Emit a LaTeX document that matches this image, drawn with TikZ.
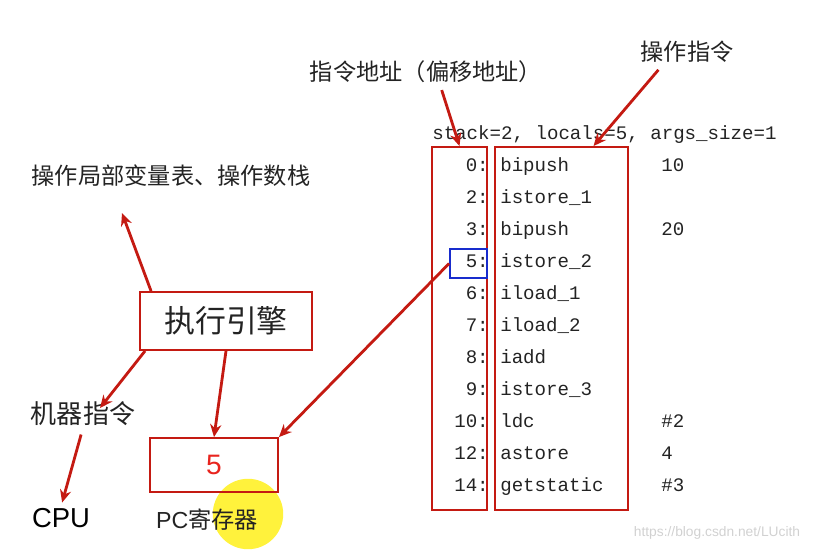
\documentclass[tikz,border=0pt]{standalone}
\usepackage{fontspec}
\setmainfont{Liberation Sans}
\setmonofont{Liberation Mono}
\newfontfamily\cjk{Noto Sans CJK SC}
\usepackage{xcolor}
\usepackage{tikz}
\usetikzlibrary{shapes, arrows.meta, positioning}
\definecolor{jvmred}{RGB}{196,26,18}
\definecolor{fivered}{RGB}{232,36,30}
\definecolor{pcblue}{RGB}{24,44,205}
\definecolor{inkgray}{RGB}{35,35,35}
\definecolor{cursorhl}{RGB}{255,242,60}

\begin{document}
\begin{tikzpicture}[
            x=0.025cm, y=-0.025cm,
            note/.style={inner sep=1pt, text=inkgray, font=\cjk\fontsize{16.5}{18}\selectfont},
            redbox/.style={rectangle, draw=jvmred, line width=1.3pt},
            codeline/.style={inner sep=0pt, text height=1.5ex, text depth=.25ex, text=inkgray, font=\ttfamily\fontsize{13.6}{15}\selectfont},
            arrow/.style={line width=2pt, jvmred, -{Stealth[length=9pt, width=8pt]}}
        ]
            \useasboundingbox (0,0) rectangle (821,551);

            % titles
            \node[note] (addrtitle) at (426,72) {指令地址（偏移地址）};
            \node[note] (optitle) at (687,52) {操作指令};
            \node[note] (locals) at (171,176) {操作局部变量表、操作数栈};

            % bytecode listing
            \node[codeline, anchor=west] (header) at (432,135) {stack=2, locals=5, args\_size=1};
            \foreach \addr/\op/\arg [count=\i from 0] in {0/bipush/10, 2/istore\_1/, 3/bipush/20, 5/istore\_2/, 6/iload\_1/, 7/iload\_2/, 8/iadd/, 9/istore\_3/, 10/ldc/\#2, 12/astore/4, 14/getstatic/\#3} {
                \node[codeline, anchor=east] (addr\i) at (489,167+32*\i) {\addr:};
                \node[codeline, anchor=west] (op\i) at (500,167+32*\i) {\op};
                \node[codeline, anchor=west] (arg\i) at (661,167+32*\i) {\arg};
            }
            \node[redbox, minimum width=1.375cm, minimum height=9.075cm] (addrbox) at (459.5,328.5) {};
            \node[redbox, minimum width=3.325cm, minimum height=9.075cm] (opbox) at (561.5,328.5) {};
            \node[rectangle, draw=pcblue, line width=1.3pt, minimum width=0.925cm, minimum height=0.725cm] (cur) at (468.5,263.5) {};

            % engine side
            \node[redbox, minimum width=4.3cm, minimum height=1.45cm, text=inkgray, font=\cjk\fontsize{22}{24}\selectfont] (engine) at (226,321) {执行引擎};
            \node[note, font=\cjk\fontsize{18.5}{20}\selectfont] (mach) at (83,414) {机器指令};
            \node[inner sep=1pt, font=\fontsize{19.5}{22}\selectfont] (cpu) at (61,518) {CPU};
            \fill[cursorhl] (248,514) circle (0.88cm);
            \node[redbox, minimum width=3.2cm, minimum height=1.35cm, text=fivered, font=\fontsize{20}{22}\selectfont] (pc) at (214,465) {5};
            \node[inner sep=1pt, text=inkgray, font=\fontsize{16.5}{18}\selectfont] (pclabel) at (207,520) {PC{\cjk 寄存器}};

            \node[text=black!18, font=\fontsize{9.8}{11}\selectfont] (mark) at (717,533) {https://blog.csdn.net/LUcith};

            \coordinate (up) at (122,213);
            \coordinate (down) at (100,408);

            \draw[arrow, shorten <=4pt] ([xshift=0.35cm]addrtitle.south) -- (addrbox.north);
            \draw[arrow, shorten <=5pt] ([xshift=-0.6cm]optitle.south) -- ([xshift=0.8cm]opbox.north);
            \draw[arrow] ([xshift=0.3cm]engine.north west) -- (up);
            \draw[arrow] ([xshift=0.15cm]engine.south west) -- (down);
            \draw[arrow] (engine.south) -- (pc.north);
            \draw[arrow, shorten <=5pt, shorten >=3pt] (mach.south) -- (cpu.north);
            \draw[arrow] (cur.west) -- (pc.north east);
        \end{tikzpicture}
\end{document}
